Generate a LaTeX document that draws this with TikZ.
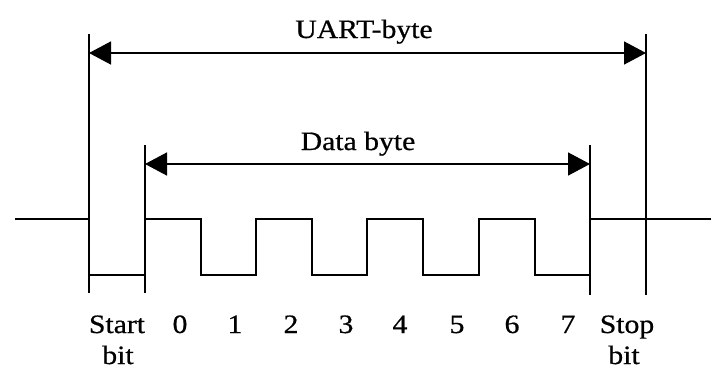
\documentclass[tikz,border=0pt]{standalone}
\usepackage{fontspec}
\setmainfont{Liberation Serif}
\newfontfamily\lblfont[FakeBold=0.6]{Liberation Serif}
\usetikzlibrary{arrows.meta}
\begin{document}
\begin{tikzpicture}[x=1pt,y=-1pt,line width=1.5pt,
  lbl/.style={font=\lblfont\fontsize{26.5}{30}\selectfont,inner sep=0pt,anchor=base,xscale=1.12},
  dim/.style={{Triangle[length=22pt,width=23pt]}-{Triangle[length=22pt,width=23pt]}}]
\useasboundingbox (0,0) rectangle (711,370);
% frame lines
\coordinate (ut1) at (89,34);  \coordinate (ub1) at (89,293);
\coordinate (ut2) at (646,34); \coordinate (ub2) at (646,295);
\coordinate (dt1) at (145,145); \coordinate (db1) at (145,293);
\coordinate (dt2) at (590,145); \coordinate (db2) at (590,295);
\draw (ut1) -- (ub1);
\draw (ut2) -- (ub2);
\draw (dt1) -- (db1);
\draw (dt2) -- (db2);
% dimension arrows
\coordinate (ua1) at (89,53);  \coordinate (ua2) at (646,53);
\coordinate (da1) at (145,164); \coordinate (da2) at (590,164);
\draw[dim] (ua1) -- (ua2);
\draw[dim] (da1) -- (da2);
\node[lbl] (uart) at (364,38) {UART-byte};
\node[lbl] (data) at (358,150) {Data byte};
% waveform
\coordinate (w0) at (15,219); \coordinate (w1) at (89,219);
\draw (w0) -- (w1);
\draw (89,275) -- (145,275);
\draw (145,219) -- (201,219) -- (201,275) -- (256,275) -- (256,219) -- (312,219)
  -- (312,275) -- (367,275) -- (367,219) -- (423,219) -- (423,275) -- (479,275)
  -- (479,219) -- (535,219) -- (535,275) -- (590,275);
\coordinate (w2) at (590,219); \coordinate (w3) at (711,219);
\draw (w2) -- (w3);
% labels
\node[lbl] (start) at (117,333) {Start};
\node[lbl] (startb) at (118,364) {bit};
\node[lbl] (b0) at (180,333) {0};
\node[lbl] (b1) at (235,333) {1};
\node[lbl] (b2) at (291,333) {2};
\node[lbl] (b3) at (346,333) {3};
\node[lbl] (b4) at (400,333) {4};
\node[lbl] (b5) at (457,333) {5};
\node[lbl] (b6) at (512,333) {6};
\node[lbl] (b7) at (568,333) {7};
\node[lbl] (stop) at (627,333) {Stop};
\node[lbl] (stopb) at (624,364) {bit};
\end{tikzpicture}
\end{document}
